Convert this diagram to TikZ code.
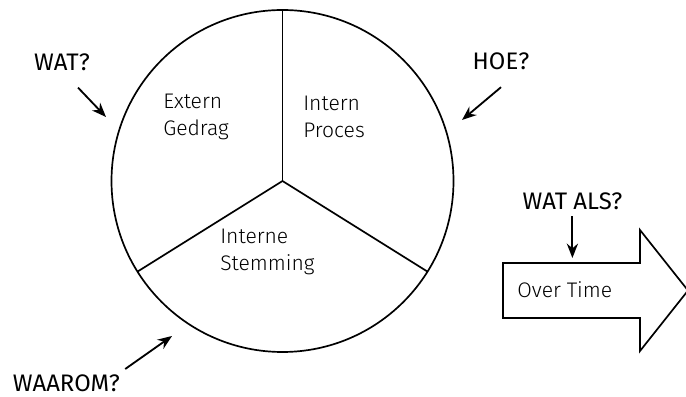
\documentclass[tikz,border=0pt]{standalone}
\usepackage{fontspec}
\setmainfont{Fira Sans}
\newfontfamily\licht{Fira Sans Light}
\usepackage{tikz}
\usetikzlibrary{positioning,arrows.meta,calc}

\begin{document}
\begin{tikzpicture}[
  vraag/.style={font=\fontsize{17}{20}\selectfont, inner sep=0pt},
  vak/.style={font=\licht\fontsize{15}{19.5}\selectfont, align=left,
              anchor=west, inner sep=0pt},
  pijl/.style={-{Stealth[length=3.6mm, width=2.8mm]}, line width=1.3pt},
  rand/.style={line width=1.2pt}]
  \useasboundingbox (0,0) rectangle (17.15,9.9);
  \clip (0,0) rectangle (17.15,9.9);
  % Cirkel met drie vakken
  \coordinate (hart) at (7.0625,5.375);
  \draw[rand] (hart) circle (4.275);
  \foreach \hoek in {90,212,328}{
    \draw[rand] (hart) -- ++(\hoek:4.275);
  }
  \node[vak] (extern) at (4.075,6.975) {Extern\\Gedrag};
  \node[vak] (intern) at (7.575,6.975) {Intern\\Proces};
  \node[vak] (stemming) at (5.5,3.6) {Interne\\Stemming};
  % Vragen
  \node[vraag] (wat) at (1.55,8.35) {WAT?};
  \node[vraag] (hoe) at (12.525,8.36) {HOE?};
  \node[vraag] (watals) at (14.31,4.86) {WAT ALS?};
  \node[vraag] (waarom) at (1.66,0.33) {WAAROM?};
  \coordinate (watpunt) at (2.65,6.975);
  \coordinate (hoepunt) at (11.55,6.9);
  \coordinate (watalspunt) at (14.31,3.45);
  \coordinate (waarompunt) at (4.3,1.5);
  % Tijdpijl
  \draw[rand, line join=miter] (12.575,3.325) -- (16.0,3.325) -- (16.0,4.15)
    -- (17.2,2.6375) -- (16.0,1.125) -- (16.0,1.95) -- (12.575,1.95) -- cycle;
  \node[vak] (tijd) at (12.925,2.65) {Over Time};
  % Pijlen
  \draw[pijl] ($(wat.south)+(0.4,-0.42)$) -- (watpunt);
  \draw[pijl] ($(hoe.south)+(0,-0.42)$) -- (hoepunt);
  \draw[pijl] ($(watals.south)+(0,-0.15)$) -- (watalspunt);
  \draw[pijl] ($(waarom.north east)+(0.125,0.125)$) -- (waarompunt);
\end{tikzpicture}
\end{document}
